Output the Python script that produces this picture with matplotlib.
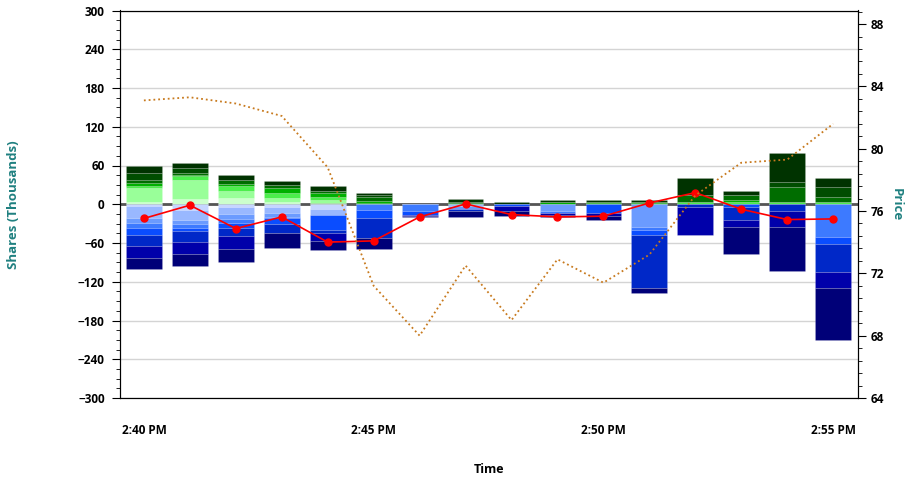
import matplotlib
matplotlib.use('Agg')
import matplotlib.pyplot as plt
from matplotlib.ticker import MultipleLocator
import numpy as np

plt.rcParams['font.family'] = ['Open Sans', 'DejaVu Sans']

times = ['2:40 PM', '2:41 PM', '2:42 PM', '2:43 PM', '2:44 PM', '2:45 PM', '2:46 PM', '2:47 PM',
         '2:48 PM', '2:49 PM', '2:50 PM', '2:51 PM', '2:52 PM', '2:53 PM', '2:54 PM', '2:55 PM']

# buy side (thousands), from zero upwards: lightest to darkest green
buy_vlight = [3, 8, 9, 3, 2, 0, 0, 0, 0, 0, 0, 0, 0, 0, 0, 0]
buy_pale   = [22, 30, 12, 6, 4.7, 0, 0, 0, 0, 0, 0, 0, 0, 0, 0, 0]
buy_lime   = [4, 6, 7, 8, 5, 1.6, 0, 1.5, 0, 0, 1.5, 1.5, 3, 3, 3, 3]
buy_green  = [4, 2, 4, 7.5, 5, 4, 0, 0, 0, 3.6, 2.6, 2.2, 0, 3.6, 0, 0]
buy_mid    = [4, 2, 5, 5, 4, 5, 0, 2.6, 0, 0, 0, 0, 11, 7.7, 24, 7.7]
buy_dark   = [11, 7.5, 0, 0, 0, 4, 0, 0, 0, 0, 0, 0, 0, 0, 7.7, 16.5]
buy_deep   = [11, 9, 8, 6, 7, 3, 0, 3.6, 3.6, 2.6, 3, 3, 27, 6, 44, 13]

# sell side (thousands), from zero downwards: lightest to darkest blue
sell_vlight = [3, 8.8, 4, 4, 7.7, 0, 0, 0, 0, 0, 0, 0, 0, 0, 0, 0]
sell_pale   = [18.6, 15.5, 10.4, 10, 8.8, 0, 0, 3, 0, 0, 0, 0, 0, 0, 0, 0]
sell_light  = [7.7, 6, 8.8, 5, 0, 0, 0, 4, 0, 10, 0, 35, 0, 0, 0, 0]
sell_sky    = [7.7, 6.7, 6.5, 3, 0, 8.8, 10, 0, 0, 3, 0, 5, 0, 0, 0, 50.5]
sell_bright = [10.3, 5, 6.5, 8, 23, 13, 6, 0, 3, 0, 13, 8, 0, 5, 0, 11]
sell_royal  = [18, 17, 13, 15, 5, 31, 0, 3, 0, 0, 0, 82, 5, 19.5, 10, 43]
sell_deep   = [18, 18, 20, 0, 13, 0, 2, 0, 7, 3, 5, 0, 43, 11, 25, 25]
sell_navy   = [17, 18, 19.8, 22, 13.5, 16.5, 2, 10, 8.5, 3, 7, 8, 0, 42, 68, 80]

net_line = [-22, -1.5, -37.6, -19.6, -58.7, -56.7, -19.6, 0.5, -16, -19.6, -18.5, 2, 18, -7.7, -23.7, -22.7]
price = [83.1, 83.3, 82.9, 82.1, 78.8, 71.2, 68.0, 72.5, 69.0, 72.9, 71.4, 73.2, 77.0, 79.1, 79.3, 81.6]

buy_colors = ['#ccffcc', '#99ff99', '#4cee4c', '#00b000', '#006d00', '#004d00', '#003300']
sell_colors = ['#c6d6ff', '#99b8ff', '#6b9bff', '#3d7aff', '#0a4dff', '#0028c8', '#0000aa', '#000078']

teal = '#1f8080'

fig = plt.figure(figsize=(9.11, 4.8), dpi=100)
ax = fig.add_axes([120 / 911, 1 - 398 / 480, 738 / 911, 387.5 / 480])

x = np.arange(len(times))
width = 0.78

bottom = np.zeros(len(x))
for vals, c in zip([buy_vlight, buy_pale, buy_lime, buy_green, buy_mid, buy_dark, buy_deep], buy_colors):
    v = np.array(vals, dtype=float)
    ax.bar(x, v, width, bottom=bottom, color=c, edgecolor=(1, 1, 1, 0.18), linewidth=0.5, zorder=2)
    bottom += v

bottom = np.zeros(len(x))
for vals, c in zip([sell_vlight, sell_pale, sell_light, sell_sky, sell_bright, sell_royal, sell_deep, sell_navy], sell_colors):
    v = -np.array(vals, dtype=float)
    ax.bar(x, v, width, bottom=bottom, color=c, edgecolor=(1, 1, 1, 0.18), linewidth=0.5, zorder=2)
    bottom += v

ax.axhline(0, color='#555555', linewidth=2, zorder=1.5)
ax.plot(x, net_line, color='#ff0000', linewidth=1.2, marker='o', markersize=5, zorder=4)

ax.set_xlim(-0.52, 15.54)
ax.set_ylim(-300, 300)
ax.yaxis.set_major_locator(MultipleLocator(60))
ax.yaxis.set_minor_locator(MultipleLocator(15))
ax.yaxis.grid(True, color='#d4d4d4', linewidth=1)
ax.set_axisbelow(True)
ax.set_xticks([0, 5, 10, 15])
ax.set_xticklabels([times[i] for i in [0, 5, 10, 15]])
ax.tick_params(axis='x', length=0, pad=19, labelsize=8.5)
ax.tick_params(axis='y', which='major', length=6, pad=5, labelsize=8.5)
ax.tick_params(axis='y', which='minor', length=3)
for lbl in ax.get_xticklabels() + ax.get_yticklabels():
    lbl.set_fontweight('bold')

ax.set_ylabel('Shares (Thousands)', color=teal, fontsize=9.5, fontweight='bold')
ax.yaxis.set_label_coords(-0.136, 0.5)
ax.set_xlabel('Time', fontsize=9, fontweight='bold')
ax.xaxis.set_label_coords(0.5, -0.168)

ax2 = ax.twinx()
ax2.plot(x, price, color='#c87a1e', linestyle=':', linewidth=1.3, zorder=5)
ax2.set_ylim(64, 88.87)
ax2.yaxis.set_major_locator(MultipleLocator(4))
ax2.yaxis.set_minor_locator(MultipleLocator(0.8))
ax2.tick_params(axis='y', which='major', length=6, pad=3, labelsize=8.5)
ax2.tick_params(axis='y', which='minor', length=3)
for lbl in ax2.get_yticklabels():
    lbl.set_fontweight('bold')
ax2.set_ylabel('Price', color=teal, fontsize=9.5, fontweight='bold', rotation=270)
ax2.yaxis.set_label_coords(1.061, 0.5)

fig.savefig('out.png', dpi=100)
